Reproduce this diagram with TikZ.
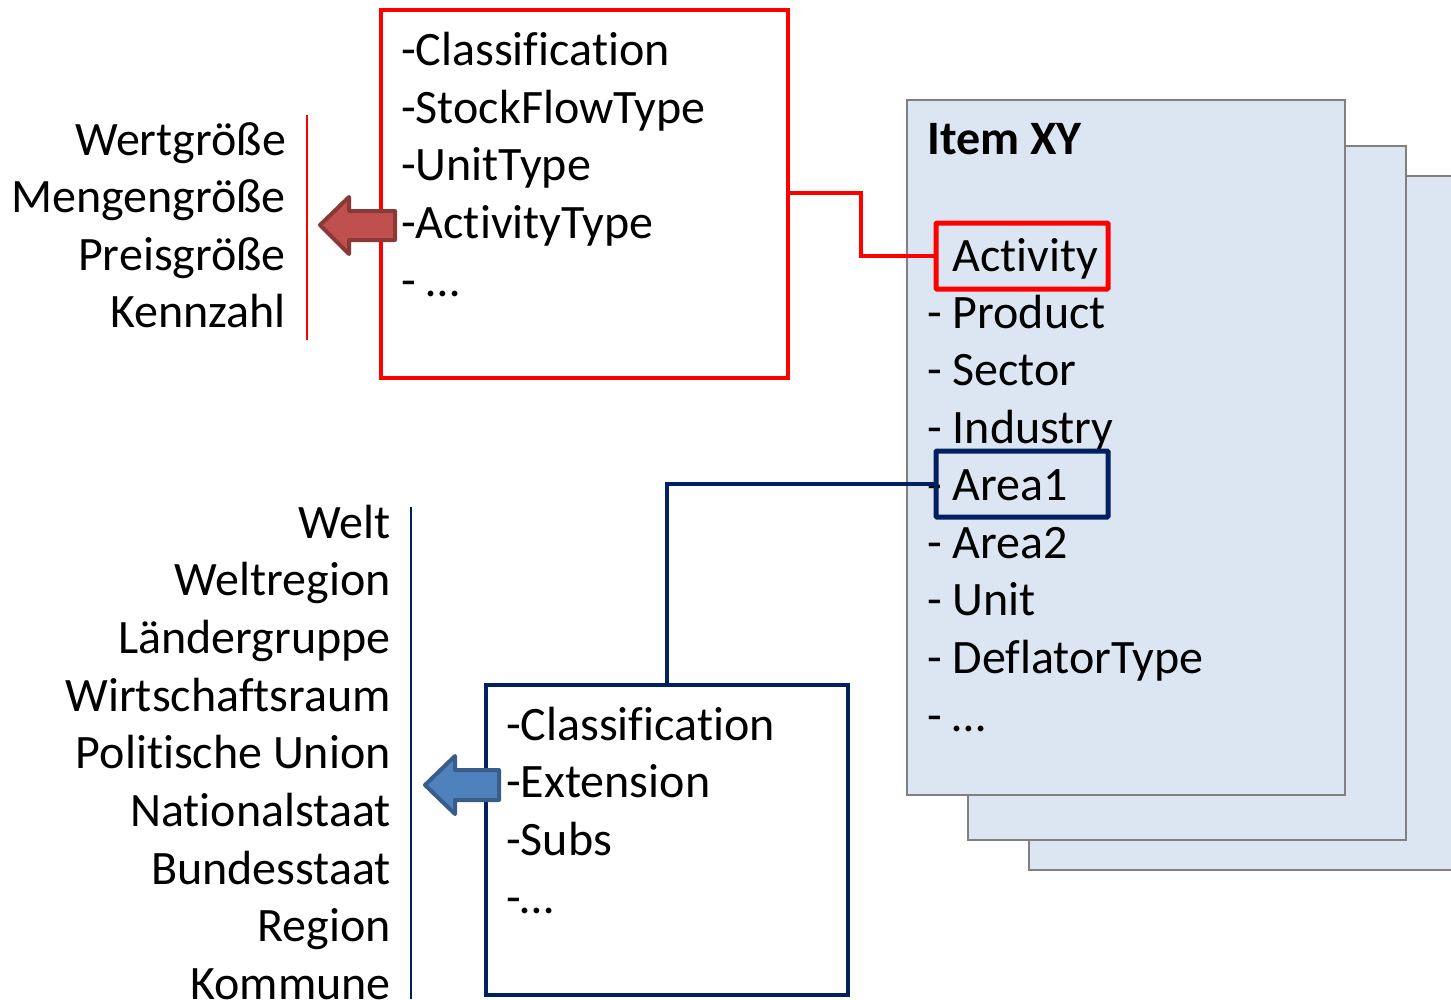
\documentclass[tikz,border=0pt]{standalone}
\usepackage{fontspec}
\setmainfont{Carlito}[Ligatures=NoCommon]
\definecolor{navy}{HTML}{002060}
\definecolor{itemfill}{HTML}{DCE6F2}
\definecolor{itemline}{HTML}{808080}
\definecolor{redfill}{HTML}{C0504D}
\definecolor{redline}{HTML}{8C3836}
\definecolor{bluefill}{HTML}{4F81BD}
\definecolor{blueline}{HTML}{385D8A}
\begin{document}
\begin{tikzpicture}[x=1pt,y=-1pt,
  txt/.style={inner sep=0pt,font=\fontsize{48}{57.6}\selectfont},
  lt/.style={txt,anchor=base west},
  rt/.style={txt,anchor=base east},
  card/.style={draw=itemline,fill=itemfill,line width=2pt},
  redbox/.style={draw=red,line width=4pt,outer sep=0pt},
  bluebox/.style={draw=navy,line width=4pt,outer sep=0pt},
  hl/.style={line width=5pt,rounded corners=1pt,outer sep=0pt},
  fatarrow/.style={line width=4pt,line join=round}]
\useasboundingbox (0,0) rectangle (1451,999);
% stacked cards
\draw[card] (1029,176) rectangle (1460,870);
\draw[card] (968,146) rectangle (1406,840);
\draw[card] (907,100) rectangle (1345,795);
\node[lt,font=\fontsize{48}{57.6}\selectfont\bfseries] (title) at (927,154) {Item XY};
\node[lt] (iact) at (952,271) {Activity};
\node[lt] (iprod) at (927,328) {- Product};
\node[lt] (isec) at (927,385) {- Sector};
\node[lt] (iind) at (927,443) {- Industry};
\node[lt] (iar1) at (927,500) {- Area1};
\node[lt] (iar2) at (927,558) {- Area2};
\node[lt] (iunit) at (927,615) {- Unit};
\node[lt] (idefl) at (927,673) {- DeflatorType};
\node[lt] (idots) at (927,731) {- \dots};
% highlight boxes
\node[draw=red,hl,minimum width=172pt,minimum height=66pt,anchor=north west] (actbox) at (936,223) {};
\node[draw=navy,hl,minimum width=172pt,minimum height=66pt,anchor=north west] (areabox) at (936,451) {};
% red box
\node[redbox,minimum width=407pt,minimum height=368pt,anchor=north west] (rbox) at (381,10) {};
\node[lt] (r1) at (401,65) {-Classification};
\node[lt] (r2) at (401,123) {-StockFlowType};
\node[lt] (r3) at (401,180) {-UnitType};
\node[lt] (r4) at (401,238) {-ActivityType};
\node[lt] (r5) at (401,296) {- \dots};
\coordinate (rc1) at (861,193);
\draw[red,line width=4pt] (rbox.east |- rc1) -- (rc1) |- (actbox.west);
% red list
\node[rt] (w1) at (286,155) {Wertgröße};
\node[rt] (w2) at (286,212) {Mengengröße};
\node[rt] (w3) at (286,270) {Preisgröße};
\node[rt] (w4) at (286,327) {Kennzahl};
\coordinate (rl1) at (307,115);
\coordinate (rl2) at (307,340);
\draw[red,line width=2pt] (rl1) -- (rl2);
\draw[fatarrow,draw=redline,fill=redfill] (320,225) -- (349,197) -- (349,211) -- (395,211) -- (395,240) -- (349,240) -- (349,254) -- cycle;
% blue box
\node[bluebox,minimum width=362pt,minimum height=310pt,anchor=north west] (bbox) at (486,685) {};
\node[lt] (b1) at (506,740) {-Classification};
\node[lt] (b2) at (506,797) {-Extension};
\node[lt] (b3) at (506,855) {-Subs};
\node[lt] (b4) at (506,913) {-\dots};
\draw[navy,line width=4pt] (bbox.north) |- (areabox.west);
% blue list
\node[rt] (g1) at (391,538) {Welt};
\node[rt] (g2) at (391,595) {Weltregion};
\node[rt] (g3) at (391,653) {Ländergruppe};
\node[rt] (g4) at (391,711) {Wirtschaftsraum};
\node[rt] (g5) at (391,768) {Politische Union};
\node[rt] (g6) at (391,826) {Nationalstaat};
\node[rt] (g7) at (391,884) {Bundesstaat};
\node[rt] (g8) at (391,941) {Region};
\node[rt] (g9) at (391,999) {Kommune};
\coordinate (bl1) at (411,507);
\coordinate (bl2) at (411,999);
\draw[navy,line width=2.5pt] (bl1) -- (bl2);
\draw[fatarrow,draw=blueline,fill=bluefill] (425,785) -- (455,756) -- (455,770) -- (499,770) -- (499,800) -- (455,800) -- (455,814) -- cycle;
\end{tikzpicture}
\end{document}
